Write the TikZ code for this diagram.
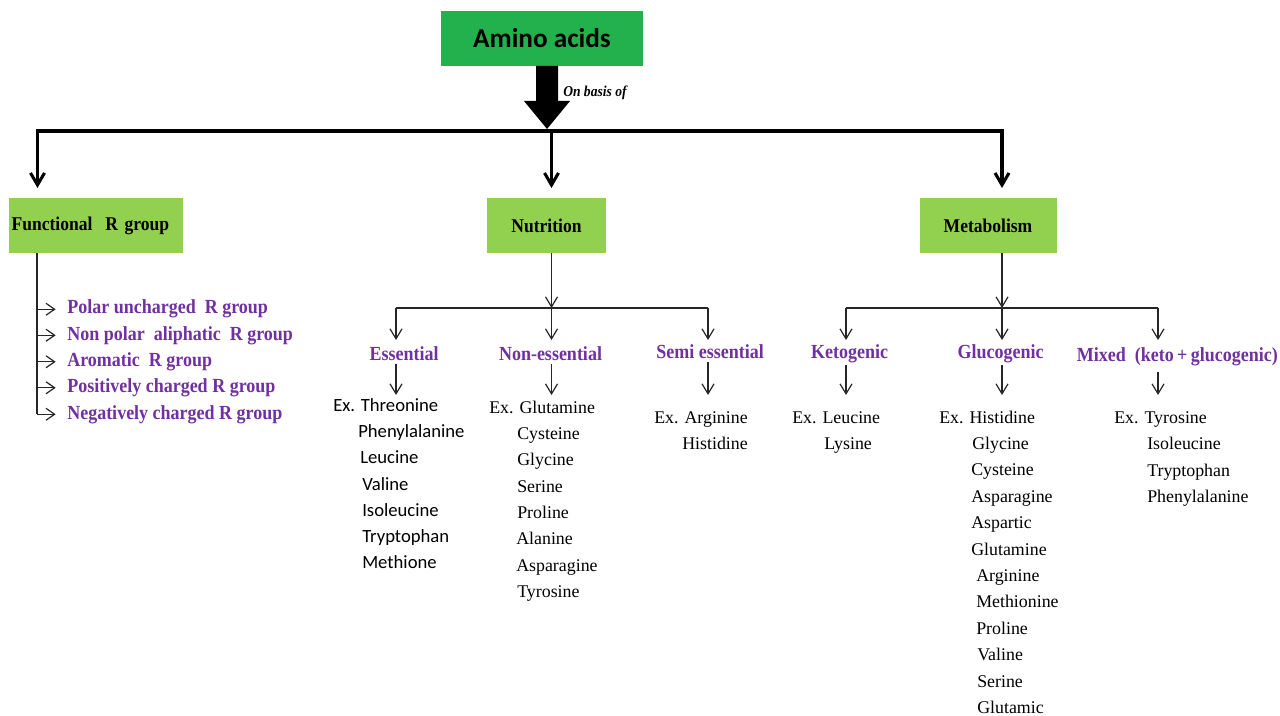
\documentclass[tikz,border=0pt]{standalone}
\usepackage{fontspec}
\setmainfont{Liberation Serif}
\newfontfamily\calib{Carlito}
\newfontfamily\condserif[FakeStretch=0.9]{Liberation Serif}
\usetikzlibrary{arrows.meta}
\definecolor{darkgrn}{RGB}{34,177,76}
\definecolor{lightgrn}{RGB}{146,208,80}
\definecolor{purp}{RGB}{112,48,160}
\begin{document}
\begin{tikzpicture}[x=0.75pt,y=-0.75pt,
  topbox/.style={fill=darkgrn, inner sep=0pt, minimum width=151.5pt, minimum height=41.25pt,
    font=\calib\fontsize{20.4}{24}\bfseries\selectfont},
  catbox/.style={fill=lightgrn, inner sep=0pt, minimum height=41.25pt,
    font=\condserif\fontsize{14.6}{16}\bfseries\selectfont},
  head/.style={anchor=base, inner sep=0pt, text=purp, font=\condserif\fontsize{15}{16}\bfseries\selectfont},
  fitem/.style={anchor=base west, inner sep=0pt, text=purp, font=\condserif\fontsize{15}{16}\bfseries\selectfont},
  item/.style={anchor=base west, inner sep=0pt, font=\fontsize{13.4}{16}\selectfont},
  itemc/.style={anchor=base west, inner sep=0pt, font=\calib\fontsize{14}{16}\selectfont},
  tline/.style={line width=0.9pt, draw=black!85},
  tarrow/.style={tline, -{Straight Barb[length=7.5pt,width=9pt]}},
  farrow/.style={tline, -{Straight Barb[length=6.5pt,width=9pt]}, shorten >=8.5pt},
  bigline/.style={line width=2.5pt, line cap=rect},
  bigarrow/.style={line width=2.3pt, -{Straight Barb[length=9pt,width=10.5pt]}},
]
\useasboundingbox (0,0) rectangle (1280,716);

% boxes
\node[topbox] (amino) at (542,38.5) {Amino acids};
\node[catbox, minimum width=130.5pt, text width=126.5pt, inner xsep=2pt, align=left] (func) at (96,225.5) {Functional\ \ R group};
\node[catbox, minimum width=89.25pt] (nutr) at (546.5,225.5) {Nutrition};
\node[catbox, minimum width=102.75pt] (meta) at (988,225.5) {Metabolism};

% fat arrow
\fill (536,66) -- (558,66) -- (558,101) -- (570,101) -- (547,129) -- (524,101) -- (536,101) -- cycle;
\node[anchor=base west, inner sep=0pt, font=\condserif\fontsize{11.3}{12}\bfseries\itshape] (basis) at (563,97) {On basis of};

% level coordinates
\coordinate (lvl1) at (0,188);
\coordinate (lvl2) at (0,340);
\coordinate (lvl3) at (0,395);
\coordinate (barL) at (37.5,131);
\coordinate (barN) at (551.5,131);
\coordinate (barR) at (1002,131);

\draw[bigline] (barL) -- (barR);
\draw[bigarrow] (barL) -- (barL |- lvl1);
\draw[bigarrow] (barN) -- (barN |- lvl1);
\draw[bigarrow] (barR) -- (barR |- lvl1);

% functional R group list
\node[fitem] (f1) at (67,314) {Polar uncharged\ \ R group};
\node[fitem] (f2) at (67,340) {Non polar\ \ aliphatic\ \ R group};
\node[fitem] (f3) at (67,366.5) {Aromatic\ \ R group};
\node[fitem] (f4) at (67,392.5) {Positively charged\ R group};
\node[fitem] (f5) at (67,419) {Negatively charged\ R group};
\coordinate (ftrunk) at (37,300);
\draw[tline] (func.south -| ftrunk) -- (ftrunk |- f5.west);
\foreach \k in {1,...,5}{
  \draw[farrow] (ftrunk |- f\k.west) -- (f\k.west);
}

% nutrition
\coordinate (nj) at (551.5,308);
\coordinate (nL) at (396,308);
\coordinate (nR) at (708,308);
\draw[tarrow] (nutr.south -| nj) -- (nj);
\draw[tline] (nL) -- (nR);
\node[head] (ess) at (404,360) {Essential};
\node[head] (noness) at (550.5,360) {Non-essential};
\node[head] (semi) at (710,358) {Semi essential};
\draw[tarrow] (nL) -- (nL |- lvl2);
\draw[tarrow] (nj) -- (nj |- lvl2);
\draw[tarrow] (nR) -- (nR |- lvl2);
\draw[tarrow] ([yshift=-3pt]ess.south -| nL) -- (nL |- lvl3);
\draw[tarrow] ([yshift=-3pt]noness.south -| nj) -- (nj |- lvl3);
\draw[tarrow] ([yshift=-3pt]semi.south -| nR) -- (nR |- lvl3);

\node[itemc] (e1) at (333,411) {Ex. Threonine};
\node[itemc] (e2) at (358,437) {Phenylalanine};
\node[itemc] (e3) at (360,463.5) {Leucine};
\node[itemc] (e4) at (362,490) {Valine};
\node[itemc] (e5) at (362,516) {Isoleucine};
\node[itemc] (e6) at (362,542) {Tryptophan};
\node[itemc] (e7) at (362,568) {Methione};

\node[item] (n1) at (489,413) {Ex. Glutamine};
\node[item] (n2) at (517,439.3) {Cysteine};
\node[item] (n3) at (517,465.6) {Glycine};
\node[item] (n4) at (517,492) {Serine};
\node[item] (n5) at (517,518) {Proline};
\node[item] (n6) at (516,544.5) {Alanine};
\node[item] (n7) at (516,571) {Asparagine};
\node[item] (n8) at (517,597) {Tyrosine};

\node[item] (s1) at (654,423) {Ex. Arginine};
\node[item] (s2) at (682,449.5) {Histidine};

% metabolism
\coordinate (mj) at (1002,308);
\coordinate (mL) at (846,308);
\coordinate (mR) at (1158,308);
\draw[tarrow] (meta.south -| mj) -- (mj);
\draw[tline] (mL) -- (mR);
\node[head] (keto) at (849.5,358) {Ketogenic};
\node[head] (gluco) at (1000.5,358) {Glucogenic};
\node[head, anchor=base east] (mixed) at (1278,361) {Mixed\ \ (keto\,+\,glucogenic)};
\draw[tarrow] (mL) -- (mL |- lvl2);
\draw[tarrow] (mj) -- (mj |- lvl2);
\draw[tarrow] (mR) -- (mR |- lvl2);
\draw[tarrow] ([yshift=-2pt]keto.south -| mL) -- (mL |- lvl3);
\draw[tarrow] ([yshift=-2pt]gluco.south -| mj) -- (mj |- lvl3);
\draw[tarrow] ([yshift=-5pt]mixed.south -| mR) -- (mR |- lvl3);

\node[item] (k1) at (792,423) {Ex. Leucine};
\node[item] (k2) at (824,449.5) {Lysine};

\node[item] (g1) at (939,423) {Ex. Histidine};
\node[item] (g2) at (972,449.4) {Glycine};
\node[item] (g3) at (971,475.8) {Cysteine};
\node[item] (g4) at (971,502.2) {Asparagine};
\node[item] (g5) at (971,528.6) {Aspartic};
\node[item] (g6) at (971,555) {Glutamine};
\node[item] (g7) at (976,581.4) {Arginine};
\node[item] (g8) at (976,607.8) {Methionine};
\node[item] (g9) at (976,634.2) {Proline};
\node[item] (g10) at (977,660.6) {Valine};
\node[item] (g11) at (977,687) {Serine};
\node[item] (g12) at (977,713.4) {Glutamic};

\node[item] (m1) at (1114,423) {Ex. Tyrosine};
\node[item] (m2) at (1147,449.5) {Isoleucine};
\node[item] (m3) at (1147,476) {Tryptophan};
\node[item] (m4) at (1147,502.5) {Phenylalanine};
\end{tikzpicture}
\end{document}
